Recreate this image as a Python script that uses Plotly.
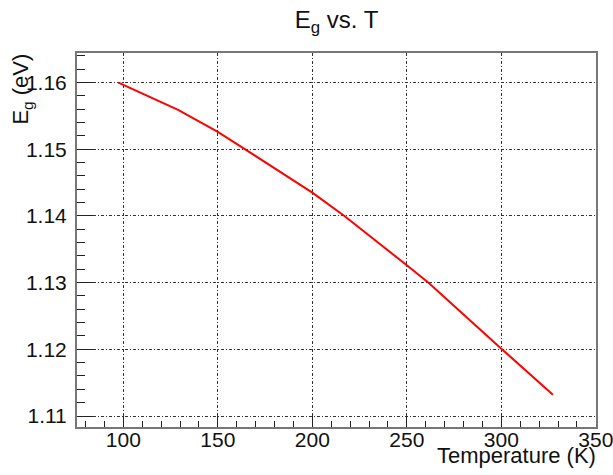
import plotly.graph_objects as go

temperature_K = [97.4, 129, 150, 164.5, 200, 217, 250, 261.5, 300, 327.3]
band_gap_eV = [1.1600, 1.1559, 1.1526, 1.1500, 1.1435, 1.1400, 1.1326, 1.1300, 1.1201, 1.1132]

x_ticks = [100, 150, 200, 250, 300, 350]
y_ticks = [1.11, 1.12, 1.13, 1.14, 1.15, 1.16]

FONT = "Liberation Sans, Arial, Helvetica, sans-serif"

fig = go.Figure()
fig.add_trace(go.Scatter(
    x=temperature_K, y=band_gap_eV, mode="lines",
    line=dict(color="#ff0000", width=2), showlegend=False,
))

grid_dash = "3px,2px,1px,2px"
fig.update_xaxes(
    range=[75.5, 350.1], tickvals=x_ticks, ticktext=[str(v) for v in x_ticks],
    ticks="inside", ticklen=11, tickcolor="#222", tickwidth=1,
    minor=dict(dtick=10, tick0=0, ticks="inside", ticklen=6, tickcolor="#222", showgrid=False),
    showline=True, linecolor="#777", linewidth=2, mirror=True,
    showgrid=True, gridcolor="#333", gridwidth=1, griddash=grid_dash,
    zeroline=False, automargin=False, ticklabelstandoff=-7, ticklabeloverflow="allow",
    tickfont=dict(family=FONT, size=21, color="#111"),
)
fig.update_yaxes(
    range=[1.10835, 1.16444], tickvals=y_ticks, ticktext=[f"{v:.2f}" for v in y_ticks],
    ticks="inside", ticklen=16, tickcolor="#222", tickwidth=1,
    minor=dict(dtick=0.002, tick0=1.11, ticks="inside", ticklen=8, tickcolor="#222", showgrid=False),
    showline=True, linecolor="#777", linewidth=2, mirror=True,
    showgrid=True, gridcolor="#333", gridwidth=1, griddash=grid_dash,
    zeroline=False, automargin=False, ticklabelstandoff=4, ticklabeloverflow="allow",
    tickfont=dict(family=FONT, size=21, color="#111"),
)

fig.update_layout(
    width=613, height=475,
    margin=dict(l=77, r=17, t=53, b=48, pad=0),
    paper_bgcolor="white", plot_bgcolor="white",
    title=dict(text="E<sub>g</sub> vs. T", x=0.5, xref="paper", xanchor="center",
               y=0.958, yref="container", yanchor="middle",
               font=dict(family=FONT, size=24, color="#111")),
    annotations=[
        dict(text="Temperature (K)", xref="paper", yref="paper", x=1.003, y=-0.116,
             xanchor="right", yanchor="bottom", showarrow=False,
             font=dict(family=FONT, size=22, color="#111")),
        dict(text="E<sub>g</sub> (eV)", xref="paper", yref="paper", x=-0.106, y=1.005,
             xanchor="center", yanchor="top", textangle=-90, showarrow=False,
             font=dict(family=FONT, size=22, color="#111")),
    ],
)

fig.write_html("out.html", config={"displayModeBar": False},
               post_script="document.body.style.margin='0';")
